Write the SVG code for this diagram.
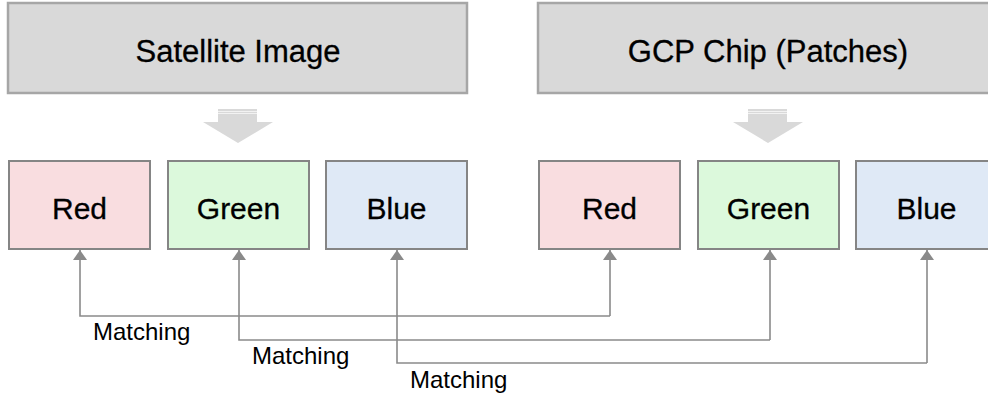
<svg xmlns="http://www.w3.org/2000/svg" width="988" height="398" viewBox="0 0 988 398">
<style>
.title{fill:#d9d9d9;stroke:#a6a6a6;stroke-width:2.5}
.tt{font-family:"Liberation Sans",Arial,sans-serif;font-size:31px;fill:#000;text-anchor:middle;stroke:#000;stroke-width:0.3}
.box{stroke:#858585;stroke-width:2}
.red{fill:#f9dde0}.green{fill:#dcf9dc}.blue{fill:#dfe9f6}
.bt{font-family:"Liberation Sans",Arial,sans-serif;font-size:30px;fill:#000;text-anchor:middle;stroke:#000;stroke-width:0.3}
.conn{fill:none;stroke:#8a8a8a;stroke-width:1.6}
.lbl{font-family:"Liberation Sans",Arial,sans-serif;font-size:24px;fill:#000}
.big{fill:#d9d9d9}
</style>
<defs>
<marker id="ah" markerWidth="10" markerHeight="14" refX="10" refY="7" orient="auto" markerUnits="userSpaceOnUse">
<path d="M0,0 L10,7 L0,14 Z" fill="#8a8a8a"/>
</marker>
</defs>
<rect width="988" height="398" fill="#fff"/>
<g id="satellite">
<rect class="title" x="8" y="3" width="459" height="90"/>
<text class="tt" x="238" y="62">Satellite Image</text>
</g>
<g id="gcp">
<rect class="title" x="538" y="3" width="462" height="90"/>
<text class="tt" x="768" y="62">GCP Chip (Patches)</text>
</g>
<g id="down1">
<polygon class="big" points="218,109 257,109 257,122 273,122 238,143 203,122 218,122"/>
<line x1="218" y1="111.5" x2="257" y2="111.5" stroke="#f2f2f2" stroke-width="1"/>
<line x1="218" y1="113.5" x2="257" y2="113.5" stroke="#f2f2f2" stroke-width="1"/>
</g>
<g id="down2">
<polygon class="big" points="748,109 787,109 787,122 803,122 768,143 733,122 748,122"/>
<line x1="748" y1="111.5" x2="787" y2="111.5" stroke="#f2f2f2" stroke-width="1"/>
<line x1="748" y1="113.5" x2="787" y2="113.5" stroke="#f2f2f2" stroke-width="1"/>
</g>
<g id="sat-red"><rect class="box red" x="9" y="161" width="141" height="88"/><text class="bt" x="79.5" y="219">Red</text></g>
<g id="sat-green"><rect class="box green" x="168" y="161" width="141" height="88"/><text class="bt" x="238.5" y="219">Green</text></g>
<g id="sat-blue"><rect class="box blue" x="326" y="161" width="141" height="88"/><text class="bt" x="396.5" y="219">Blue</text></g>
<g id="gcp-red"><rect class="box red" x="539" y="161" width="141" height="88"/><text class="bt" x="609.5" y="219">Red</text></g>
<g id="gcp-green"><rect class="box green" x="698" y="161" width="141" height="88"/><text class="bt" x="768.5" y="219">Green</text></g>
<g id="gcp-blue"><rect class="box blue" x="856" y="161" width="141" height="88"/><text class="bt" x="926.5" y="219">Blue</text></g>
<g id="connectors">
<path class="conn" d="M610,316 L80,316 L80,250" marker-end="url(#ah)"/>
<path class="conn" d="M610,316 L610,250" marker-end="url(#ah)"/>
<path class="conn" d="M770,340 L239,340 L239,250" marker-end="url(#ah)"/>
<path class="conn" d="M770,340 L770,250" marker-end="url(#ah)"/>
<path class="conn" d="M927,363 L397,363 L397,250" marker-end="url(#ah)"/>
<path class="conn" d="M927,363 L927,250" marker-end="url(#ah)"/>
<text class="lbl" x="93" y="340">Matching</text>
<text class="lbl" x="252" y="364">Matching</text>
<text class="lbl" x="410" y="388">Matching</text>
</g>
</svg>
